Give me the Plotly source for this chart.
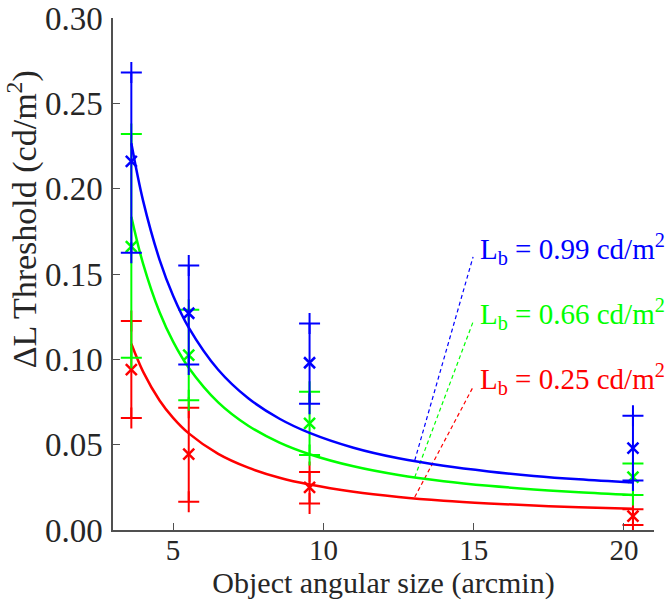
import plotly.graph_objects as go

# Measured data (object angular size in arcmin)
x_sizes = [3.61, 5.52, 9.54, 20.3]

blue_mean = [0.216, 0.127, 0.098, 0.048]
blue_low = [0.1625, 0.097, 0.074, 0.029]
blue_high = [0.268, 0.155, 0.121, 0.067]

green_mean = [0.166, 0.1025, 0.0625, 0.031]
green_low = [0.101, 0.076, 0.044, 0.0205]
green_high = [0.232, 0.129, 0.081, 0.039]

red_mean = [0.094, 0.0445, 0.025, 0.0082]
red_low = [0.0656, 0.0166, 0.0156, 0.0029]
red_high = [0.1225, 0.0717, 0.034, 0.0121]

# Fitted curves
curve_x = [3.61, 4.0, 4.55, 5.0, 5.52, 6.5, 7.5, 8.54, 9.54, 11, 12.5, 14, 15.5, 17, 18.5, 20.3]
blue_curve = [0.2266, 0.1930, 0.1583, 0.1373, 0.1186, 0.0939, 0.0772, 0.0652, 0.0569,
              0.0482, 0.0420, 0.0376, 0.0343, 0.0317, 0.0297, 0.0278]
green_curve = [0.1836, 0.1561, 0.1276, 0.1104, 0.0951, 0.0748, 0.0611, 0.0512, 0.0444,
               0.0373, 0.0322, 0.0286, 0.0259, 0.0238, 0.0221, 0.0205]
red_curve = [0.1091, 0.0928, 0.0759, 0.0657, 0.0566, 0.0446, 0.0365, 0.0306, 0.0266,
             0.0224, 0.0194, 0.0172, 0.0156, 0.0143, 0.0134, 0.0124]

# Leader lines (start on curve, end at label)
leader_x = [13.04, 14.98]
blue_leader_y = [0.0408, 0.160]
green_leader_y = [0.031, 0.122]
red_leader_y = [0.0193, 0.0838]

labels = ["L<sub>b</sub> = 0.99 cd/m<sup>2</sup>",
          "L<sub>b</sub> = 0.66 cd/m<sup>2</sup>",
          "L<sub>b</sub> = 0.25 cd/m<sup>2</sup>"]

FONT = "Liberation Serif"
TXT = "#262626"
series = [
    ("#ff0000", red_mean, red_low, red_high, red_curve, red_leader_y, labels[2]),
    ("#00ff00", green_mean, green_low, green_high, green_curve, green_leader_y, labels[1]),
    ("#0000ff", blue_mean, blue_low, blue_high, blue_curve, blue_leader_y, labels[0]),
]

fig = go.Figure()
for color, mean, low, high, curve, leader_y, lab in series:
    fig.add_trace(go.Scatter(x=curve_x, y=curve, mode="lines", line=dict(color=color, width=2.5, shape="spline"),
                             showlegend=False, hoverinfo="skip"))
    fig.add_trace(go.Scatter(x=leader_x, y=leader_y, mode="lines",
                             line=dict(color=color, width=1.2, dash="4px,3px"), showlegend=False))
    fig.add_trace(go.Scatter(
        x=x_sizes, y=mean, mode="markers",
        marker=dict(symbol="x-thin", size=11, line=dict(color=color, width=2.5)),
        error_y=dict(type="data", symmetric=False,
                     array=[h - m for h, m in zip(high, mean)],
                     arrayminus=[m - l for m, l in zip(mean, low)],
                     color=color, thickness=2, width=0),
        showlegend=False))
    fig.add_trace(go.Scatter(
        x=x_sizes + x_sizes, y=low + high, mode="markers",
        marker=dict(symbol="cross-thin", size=15, line=dict(color=color, width=2)),
        showlegend=False))
    fig.add_annotation(x=leader_x[1], y=leader_y[1], xref="x", yref="y", text=lab, showarrow=False,
                       xanchor="left", yanchor="middle", xshift=5, yshift=8,
                       font=dict(family=FONT, size=29, color=color))

fig.add_annotation(x=-0.168, y=0.607, xref="paper", yref="paper", text="ΔL Threshold (cd/m<sup>2</sup>)",
                   textangle=-90, showarrow=False, xanchor="center", yanchor="middle",
                   font=dict(family=FONT, size=34, color=TXT))

axis_common = dict(showgrid=False, zeroline=False, showline=True, linecolor="#505050", linewidth=1.5,
                   ticks="inside", ticklen=7, tickwidth=1.2, tickcolor="#505050", automargin=False,
                   ticklabeloverflow="allow")
fig.update_xaxes(range=[3, 21], tickvals=[5, 10, 15, 20], **axis_common,
                 tickfont=dict(family=FONT, size=29, color=TXT), ticklabelstandoff=-7,
                 title=dict(text="Object angular size (arcmin)", font=dict(family=FONT, size=30, color=TXT),
                            standoff=6))
fig.update_yaxes(range=[0, 0.30], tickvals=[0, 0.05, 0.10, 0.15, 0.20, 0.25, 0.30], tickformat=".2f",
                 tickfont=dict(family=FONT, size=33, color=TXT), ticklabelstandoff=2,
                 **axis_common)
fig.update_layout(width=667, height=612, margin=dict(l=113, r=13, t=18, b=82),
                  plot_bgcolor="white", paper_bgcolor="white")
fig.write_html("out.html")
